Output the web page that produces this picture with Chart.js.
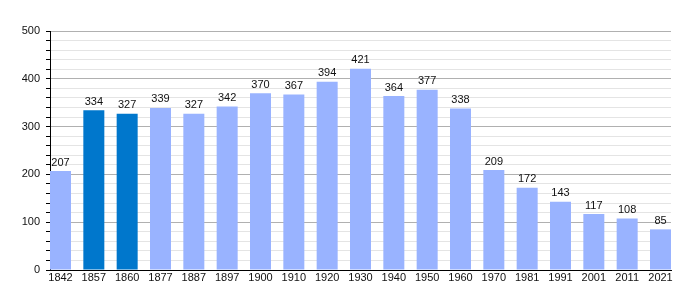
<!DOCTYPE html>
<html>
<head>
<meta charset="utf-8">
<script src="https://cdn.jsdelivr.net/npm/chart.js@4/dist/chart.umd.min.js"></script>
<style>
  html, body { margin: 0; padding: 0; background: #fff; }
  #wrap { width: 700px; height: 300px; }
</style>
</head>
<body>
<div id="wrap"><canvas id="popChart"></canvas></div>
<script>
// Population by census year
const years = ['1842', '1857', '1860', '1877', '1887', '1897', '1900', '1910', '1920', '1930',
               '1940', '1950', '1960', '1970', '1981', '1991', '2001', '2011', '2021'];
const population = [207, 334, 327, 339, 327, 342, 370, 367, 394, 421,
                     364, 377, 338, 209, 172, 143, 117, 108, 85];
const highlighted = ['1857', '1860'];
const yTicks = [0, 100, 200, 300, 400, 500];

const lightBlue = '#99b3ff';
const darkBlue = '#0077cc';

// labels on top of each bar
const valueLabels = {
    id: 'valueLabels',
    afterDatasetsDraw(chart) {
        const ctx = chart.ctx;
        const meta = chart.getDatasetMeta(0);
        ctx.save();
        ctx.font = '11px "Liberation Sans", Arial, sans-serif';
        ctx.fillStyle = '#111';
        ctx.textAlign = 'center';
        ctx.textBaseline = 'bottom';
        meta.data.forEach((bar, i) => {
            ctx.fillText(String(population[i]), bar.x, bar.y - 3);
        });
        ctx.restore();
    }
};

document.addEventListener('DOMContentLoaded', function() {
    const ctx = document.getElementById('popChart').getContext('2d');
    new Chart(ctx, {
        type: 'bar',
        data: {
            datasets: [{
                data: population.map((v, i) => ({ x: i, y: v })),
                backgroundColor: years.map(y => highlighted.includes(y) ? darkBlue : lightBlue),
                borderWidth: 0,
                barPercentage: 0.63,
                categoryPercentage: 1
            }]
        },
        options: {
            responsive: true,
            maintainAspectRatio: false,
            animation: false,
            layout: { padding: { top: 31, right: 29, left: 0, bottom: 0 } },
            plugins: {
                legend: { display: false },
                tooltip: { enabled: false }
            },
            scales: {
                x: {
                    type: 'linear',
                    offset: false,
                    min: -0.315,
                    max: years.length - 1 + 0.315,
                    afterFit(scale) { scale.height = 30; },
                    afterBuildTicks(scale) {
                        scale.ticks = years.map((_, i) => ({ value: i }));
                    },
                    ticks: {
                        autoSkip: false,
                        maxRotation: 0,
                        padding: 1,
                        color: '#111',
                        font: { family: '"Liberation Sans", Arial, sans-serif', size: 11 },
                        callback: v => years[v] || ''
                    },
                    grid: { display: false, offset: false, drawTicks: false, tickLength: 0 },
                    border: { display: true, color: '#000', width: 1 }
                },
                y: {
                    min: 0,
                    max: 500,
                    afterFit(scale) { scale.width = 50; },
                    ticks: {
                        stepSize: 20,
                        autoSkip: false,
                        padding: 6,
                        color: '#111',
                        font: { family: '"Liberation Sans", Arial, sans-serif', size: 11 },
                        callback: v => yTicks.includes(v) ? v : ''
                    },
                    grid: {
                        color: c => (c.tick && c.tick.value % 100 === 0) ? '#b0b0b0' : '#e4e4e4',
                        tickColor: '#000',
                        tickLength: 4,
                        lineWidth: 1
                    },
                    border: { display: true, color: '#000', width: 1 }
                }
            }
        },
        plugins: [valueLabels]
    });
});
</script>
</body>
</html>
